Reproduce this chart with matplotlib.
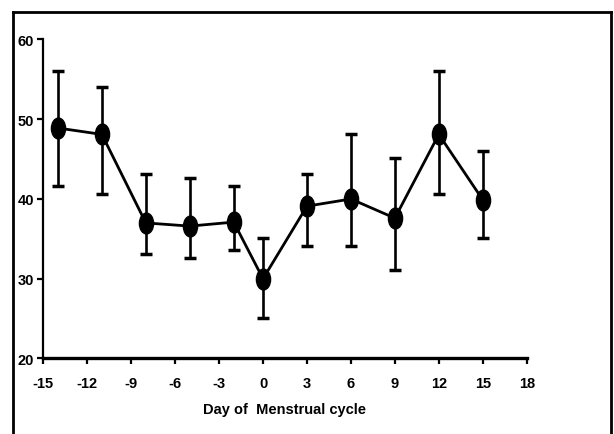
import numpy as np
import matplotlib
matplotlib.use('Agg')
import matplotlib.pyplot as plt
from matplotlib.path import Path
from matplotlib.transforms import Affine2D
from matplotlib.lines import Line2D

plt.rcParams['font.family'] = ['Liberation Sans', 'DejaVu Sans']
plt.rcParams['axes.unicode_minus'] = False

# Data
days = [-14, -11, -8, -5, -2, 0, 3, 6, 9, 12, 15]
means = [48.9, 48.1, 37.0, 36.6, 37.1, 30.0, 39.1, 40.0, 37.6, 48.1, 39.9]
upper = [56.1, 54.0, 43.1, 42.6, 41.6, 35.1, 43.1, 48.1, 45.1, 56.0, 46.0]
lower = [41.6, 40.6, 33.1, 32.6, 33.6, 25.1, 34.1, 34.1, 31.1, 40.6, 35.1]
xticks = [-15, -12, -9, -6, -3, 0, 3, 6, 9, 12, 15, 18]
yticks = [20, 30, 40, 50, 60]

means = np.array(means)
err = [means - np.array(lower), np.array(upper) - means]

fig = plt.figure(figsize=(6.14, 4.35), dpi=100)
ax = fig.add_axes([0.0705, 0.1736, 0.7873, 0.7333])

# tall ellipse marker like the original
ell = Path.unit_circle().transformed(Affine2D().scale(0.68, 1.0))

ax.errorbar(days, means, yerr=err, color='black', linewidth=2.0,
            elinewidth=1.9, capsize=4, capthick=2.5,
            marker=ell, markersize=15, markerfacecolor='black',
            markeredgecolor='black', zorder=3)

ax.set_xlim(-15, 18)
ax.set_ylim(20, 60)
ax.set_xticks(xticks)
ax.set_yticks(yticks)

ax.spines['top'].set_visible(False)
ax.spines['right'].set_visible(False)
ax.spines['left'].set_linewidth(1.6)
ax.spines['bottom'].set_linewidth(2.4)
ax.tick_params(axis='both', direction='out', length=4.5, width=1.6,
               labelsize=10.5)
ax.tick_params(axis='x', pad=8)
ax.tick_params(axis='y', pad=2)
for lab in ax.get_xticklabels() + ax.get_yticklabels():
    lab.set_fontweight('bold')

ax.set_xlabel('Day of  Menstrual cycle', fontsize=10.5, fontweight='bold', labelpad=9)

# outer frame (bottom edge is cut off in the original)
x0, x1, y1 = 13 / 614, 611 / 614, 1 - 13 / 435
for xs, ys in [([x0, x0], [-0.01, y1]), ([x0, x1], [y1, y1]), ([x1, x1], [y1, -0.01])]:
    fig.add_artist(Line2D(xs, ys, transform=fig.transFigure, color='black', linewidth=2))

fig.savefig('out.png', dpi=100)
